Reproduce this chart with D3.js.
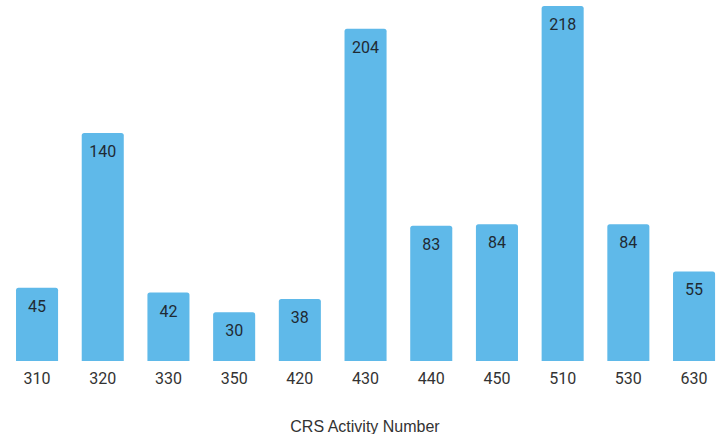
<!DOCTYPE html>
<html><head><meta charset="utf-8">
<script src="https://cdn.jsdelivr.net/npm/d3@7"></script>
<style>html,body{margin:0;padding:0;background:#fff;overflow:hidden}</style>
</head><body>
<svg id="c" width="719" height="434"></svg>
<script>
const categories = ["310","320","330","350","420","430","440","450","510","530","630"];
const values = [45,140,42,30,38,204,83,84,218,84,55];
const axisTitle = "CRS Activity Number";

const svg = d3.select("#c");
const x = d3.scaleBand().domain(categories).range([4.2, 726.9]).paddingInner(0.36).paddingOuter(0.18);
const y = d3.scaleLinear().domain([0, 218]).range([361, 6]);

const r = 2.5;
function barPath(x0, y0, w, h) {
  return `M${x0},${y0+h}V${y0+r}Q${x0},${y0} ${x0+r},${y0}H${x0+w-r}Q${x0+w},${y0} ${x0+w},${y0+r}V${y0+h}Z`;
}
svg.selectAll("path.bar").data(values).join("path").attr("class","bar")
  .attr("d",(d,i)=>barPath(x(categories[i]), y(d), x.bandwidth(), y(0)-y(d)))
  .attr("fill","#5fb9e9");

svg.selectAll("text.val").data(values).join("text").attr("class","val")
  .attr("x",(d,i)=>x(categories[i])+x.bandwidth()/2)
  .attr("y",d=>y(d)+24)
  .attr("text-anchor","middle")
  .attr("font-family","Roboto, sans-serif").attr("font-size",16).attr("fill","#1f2a33")
  .text(d=>d);

const ax = svg.append("g").attr("transform","translate(0,361)")
  .call(d3.axisBottom(x).tickSize(0).tickPadding(12));
ax.select(".domain").remove();
ax.selectAll("text").attr("font-family","Roboto, sans-serif").attr("font-size",16).attr("fill","#333");

svg.append("text").attr("x",365).attr("y",432).attr("text-anchor","middle")
  .attr("font-family","Liberation Sans, Arial, sans-serif").attr("font-size",16).attr("fill","#333")
  .text(axisTitle);
</script>
</body></html>
